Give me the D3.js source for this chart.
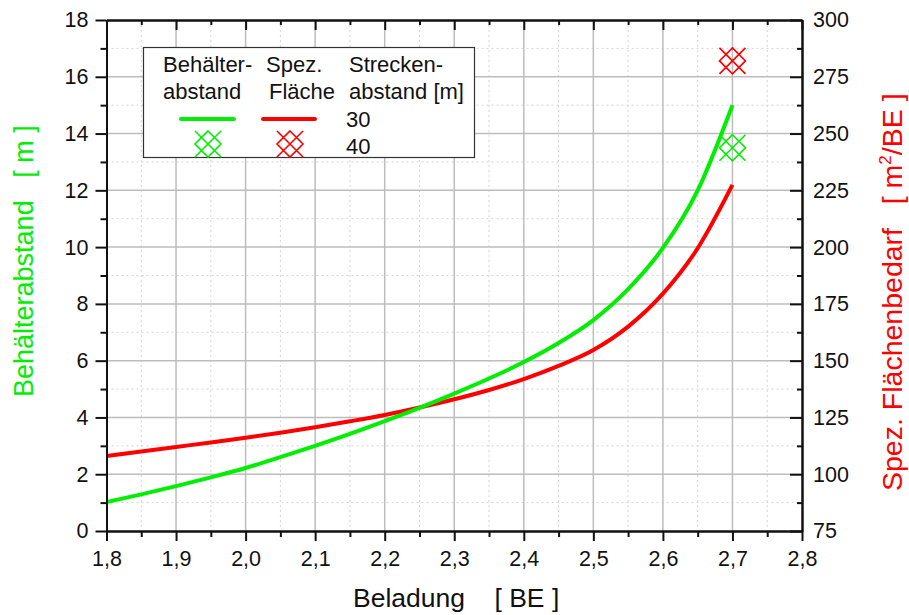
<!DOCTYPE html>
<html>
<head>
<meta charset="utf-8">
<script src="https://cdn.jsdelivr.net/npm/d3@7"></script>
<style>
  html, body { margin: 0; padding: 0; background: #fff; }
  svg { display: block; font-family: "Liberation Sans", Arial, sans-serif; }
</style>
</head>
<body>
<svg id="chart" width="909" height="615"></svg>
<script>
// Beladung [BE] and the two curves for 30 m Streckenabstand
const beladung = [1.8, 1.85, 1.9, 1.95, 2.0, 2.05, 2.1, 2.15, 2.2, 2.25, 2.3, 2.35, 2.4, 2.45, 2.5, 2.55, 2.6, 2.65, 2.7];
const behaelterabstand30 = [1.02, 1.29, 1.58, 1.89, 2.22, 2.6, 3.0, 3.42, 3.87, 4.34, 4.84, 5.37, 5.95, 6.62, 7.43, 8.52, 9.97, 12.0, 15.0];
const flaechenbedarf30 = [108, 110, 112, 114, 116.1, 118.3, 120.7, 123.3, 126.1, 129.4, 133.0, 137.1, 141.9, 147.7, 154.7, 165, 179.5, 199.5, 227.4];

// single values for 40 m Streckenabstand
const beladung40 = [2.7];
const behaelterabstand40 = [13.5];
const flaechenbedarf40 = [282];

// tick values
const xTicks = [1.8, 1.9, 2.0, 2.1, 2.2, 2.3, 2.4, 2.5, 2.6, 2.7, 2.8];
const xMinor = [1.85, 1.95, 2.05, 2.15, 2.25, 2.35, 2.45, 2.55, 2.65, 2.75];
const yLeftTicks = [0, 2, 4, 6, 8, 10, 12, 14, 16, 18];
const yLeftMinor = [1, 3, 5, 7, 9, 11, 13, 15, 17];
const yRightTicks = [75, 100, 125, 150, 175, 200, 225, 250, 275, 300];
const yRightMinor = [87.5, 112.5, 137.5, 162.5, 187.5, 212.5, 237.5, 262.5, 287.5];

const GREEN = "#00ee00";
const RED = "#ff0000";

const svg = d3.select("#chart");
const plotL = 106.5, plotR = 802, plotT = 20, plotB = 531;

const x = d3.scaleLinear().domain([1.8, 2.8]).range([plotL, plotR]);
const yL = d3.scaleLinear().domain([0, 18]).range([plotB, plotT]);
const yR = d3.scaleLinear().domain([75, 300]).range([plotB, plotT]);

const comma = d => d3.format(".1f")(d).replace(".", ",");

// grid
const grid = svg.append("g");
grid.selectAll(".vmin").data(xMinor).join("line")
  .attr("x1", d => x(d)).attr("x2", d => x(d)).attr("y1", plotT).attr("y2", plotB)
  .attr("stroke", "#d4d4d4").attr("stroke-width", 1).attr("stroke-dasharray", "2,3");
grid.selectAll(".hmin").data(yLeftMinor).join("line")
  .attr("x1", plotL).attr("x2", plotR).attr("y1", d => yL(d)).attr("y2", d => yL(d))
  .attr("stroke", "#d4d4d4").attr("stroke-width", 1).attr("stroke-dasharray", "2,3");
grid.selectAll(".vmaj").data(xTicks.slice(1, -1)).join("line")
  .attr("x1", d => x(d)).attr("x2", d => x(d)).attr("y1", plotT).attr("y2", plotB)
  .attr("stroke", "#bdbdbd").attr("stroke-width", 1.5);
grid.selectAll(".hmaj").data(yLeftTicks.slice(1, -1)).join("line")
  .attr("x1", plotL).attr("x2", plotR).attr("y1", d => yL(d)).attr("y2", d => yL(d))
  .attr("stroke", "#bdbdbd").attr("stroke-width", 1.5);

// curves
const lineL = d3.line().x((d, i) => x(beladung[i])).y(d => yL(d)).curve(d3.curveMonotoneX);
const lineR = d3.line().x((d, i) => x(beladung[i])).y(d => yR(d)).curve(d3.curveMonotoneX);

svg.append("path").datum(flaechenbedarf30).attr("d", lineR)
  .attr("fill", "none").attr("stroke", RED).attr("stroke-width", 4);
svg.append("path").datum(behaelterabstand30).attr("d", lineL)
  .attr("fill", "none").attr("stroke", GREEN).attr("stroke-width", 4);

// crosshatch marker: an X plus a diamond in the same square
function crossMark(cx, cy) {
  const h = 13;
  return `M${cx - h},${cy - h}L${cx + h},${cy + h}` +
         `M${cx - h},${cy + h}L${cx + h},${cy - h}` +
         `M${cx},${cy - h}L${cx + h},${cy}L${cx},${cy + h}L${cx - h},${cy}Z`;
}

svg.selectAll(".m40g").data(behaelterabstand40).join("path")
  .attr("d", (d, i) => crossMark(x(beladung40[i]), yL(d)))
  .attr("fill", "none").attr("stroke", GREEN).attr("stroke-width", 1.6);
svg.selectAll(".m40r").data(flaechenbedarf40).join("path")
  .attr("d", (d, i) => crossMark(x(beladung40[i]), yR(d)))
  .attr("fill", "none").attr("stroke", RED).attr("stroke-width", 1.6);

// axes
function styleAxis(g) {
  g.select(".domain").attr("stroke", "#111").attr("stroke-width", 2);
  g.selectAll(".tick line").attr("stroke", "#111").attr("stroke-width", 2);
  g.selectAll("text").attr("fill", "#111").attr("font-size", 21.5)
    .attr("font-family", "'Liberation Sans', Arial, sans-serif");
}

svg.append("g").attr("transform", `translate(0,${plotB})`)
  .call(d3.axisBottom(x).tickValues(xMinor).tickSize(6).tickFormat("").tickSizeOuter(0)).call(styleAxis);
svg.append("g").attr("transform", `translate(0,${plotB})`)
  .call(d3.axisBottom(x).tickValues(xTicks).tickSize(10).tickPadding(10).tickFormat(comma).tickSizeOuter(0)).call(styleAxis);

svg.append("g").attr("transform", `translate(0,${plotT})`)
  .call(d3.axisTop(x).tickValues(xMinor).tickSize(-5).tickFormat("").tickSizeOuter(0)).call(styleAxis);
svg.append("g").attr("transform", `translate(0,${plotT})`)
  .call(d3.axisTop(x).tickValues(xTicks).tickSize(-10).tickFormat("").tickSizeOuter(0)).call(styleAxis);

svg.append("g").attr("transform", `translate(${plotL},0)`)
  .call(d3.axisLeft(yL).tickValues(yLeftMinor).tickSize(6).tickFormat("").tickSizeOuter(0)).call(styleAxis);
svg.append("g").attr("transform", `translate(${plotL},0)`)
  .call(d3.axisLeft(yL).tickValues(yLeftTicks).tickSize(11).tickPadding(7).tickFormat(d3.format("d")).tickSizeOuter(0)).call(styleAxis);

svg.append("g").attr("transform", `translate(${plotR},0)`)
  .call(d3.axisRight(yR).tickValues(yRightMinor).tickSize(-5).tickFormat("").tickSizeOuter(0)).call(styleAxis);
svg.append("g").attr("transform", `translate(${plotR},0)`)
  .call(d3.axisRight(yR).tickValues(yRightTicks).tickSize(-12).tickPadding(11).tickFormat(d3.format("d")).tickSizeOuter(0)).call(styleAxis);

// axis titles
svg.append("text").attr("x", 353).attr("y", 607)
  .attr("font-size", 26.5).attr("fill", "#111").style("white-space", "pre")
  .text("Beladung    [ BE ]");

svg.append("text").attr("transform", "translate(33,397) rotate(-90)")
  .attr("font-size", 27).attr("fill", GREEN).style("white-space", "pre")
  .text("Behälterabstand   [ m ]");

const rt = svg.append("text").attr("transform", "translate(902,491) rotate(-90)")
  .attr("font-size", 28.5).attr("fill", RED).style("white-space", "pre");
rt.append("tspan").text("Spez. Flächenbedarf   [ m");
rt.append("tspan").attr("font-size", 17).attr("dy", -11).text("2");
rt.append("tspan").attr("dy", 11).text("/BE ]");

// legend
const lg = svg.append("g");
lg.append("rect").attr("x", 143.5).attr("y", 47.5).attr("width", 331).attr("height", 110)
  .attr("fill", "#fff").attr("stroke", "#333").attr("stroke-width", 1.2);

const legendHead = [
  { x: 163, lines: ["Behälter-", "abstand"] },
  { x: 266, lines: ["Spez.", "Fläche"] },
  { x: 349, lines: ["Strecken-", "abstand [m]"] }
];
legendHead.forEach(h => {
  h.lines.forEach((t, i) => {
    lg.append("text").attr("x", h.x + (i === 1 && h.x === 266 ? 3 : 0)).attr("y", 72 + i * 27)
      .attr("font-size", 22).attr("fill", "#111").text(t);
  });
});

const legendRows = ["30", "40"];
lg.append("text").attr("x", 346).attr("y", 127).attr("font-size", 22).attr("fill", "#111").text(legendRows[0]);
lg.append("text").attr("x", 346).attr("y", 154).attr("font-size", 22).attr("fill", "#111").text(legendRows[1]);

lg.append("line").attr("x1", 181).attr("x2", 234).attr("y1", 119).attr("y2", 119)
  .attr("stroke", GREEN).attr("stroke-width", 4).attr("stroke-linecap", "round");
lg.append("line").attr("x1", 263).attr("x2", 315).attr("y1", 119).attr("y2", 119)
  .attr("stroke", RED).attr("stroke-width", 4).attr("stroke-linecap", "round");

lg.append("path").attr("d", crossMark(208, 144)).attr("fill", "none")
  .attr("stroke", GREEN).attr("stroke-width", 1.6);
lg.append("path").attr("d", crossMark(290, 144)).attr("fill", "none")
  .attr("stroke", RED).attr("stroke-width", 1.6);
</script>
</body>
</html>
